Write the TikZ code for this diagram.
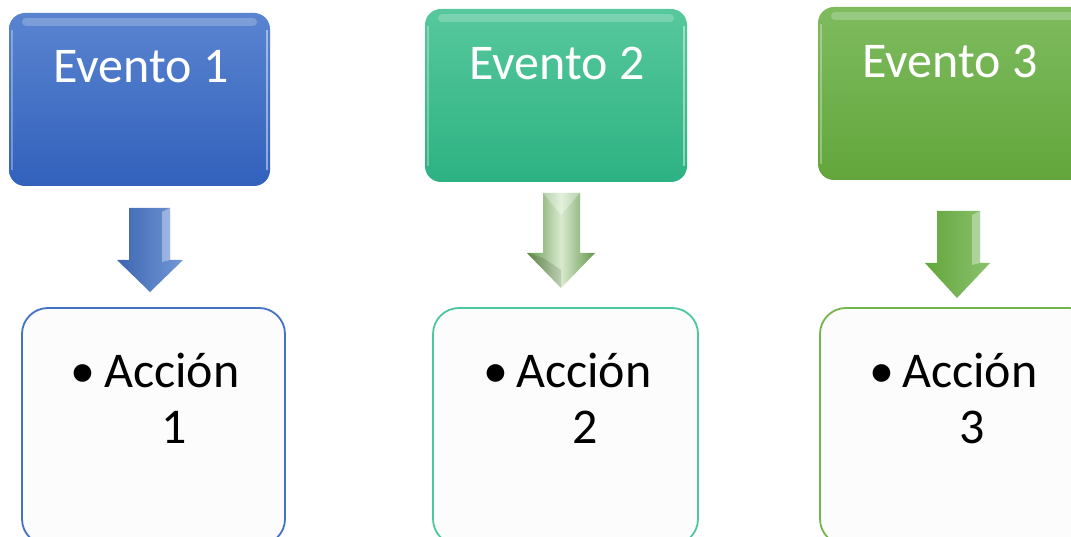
\documentclass[tikz,border=0pt]{standalone}
\usepackage{fontspec}
\setmainfont{Carlito}
\usetikzlibrary{calc}
\definecolor{bA}{HTML}{5A84D0}
\definecolor{bB}{HTML}{3261BC}
\definecolor{tA}{HTML}{56C89C}
\definecolor{tB}{HTML}{2DB283}
\definecolor{gA}{HTML}{7EBB5F}
\definecolor{gB}{HTML}{63A63B}
\definecolor{bLine}{HTML}{4472C4}
\definecolor{tLine}{HTML}{4CC79E}
\definecolor{gLine}{HTML}{74B44E}
\definecolor{paper}{HTML}{FCFCFC}
\tikzset{
  evbox/.style={rounded corners=16pt, draw=none},
  actbox/.style={rounded corners=26pt, fill=paper, line width=1.8pt},
  evtext/.style={text=white, font=\fontsize{50}{50}\selectfont, inner sep=0pt, anchor=base west},
  actext/.style={text=black, font=\fontsize{50}{50}\selectfont, inner sep=0pt, anchor=base west},
  gloss/.style={white, opacity=0.22, line width=8pt, line cap=round},
  bevel/.style={white, opacity=0.35}
}
\begin{document}
\begin{tikzpicture}[x=1pt,y=-1pt]
\useasboundingbox (0,0) rectangle (1071,537);
\fill[white] (0,0) rectangle (1071,537);

% ---------- top boxes ----------
\shade[evbox, top color=bA, bottom color=bB] (9,13) rectangle (270,186);
\draw[gloss] (26,22) -- (253,22);
\draw[white, opacity=0.45, line width=2.5pt] (267,30) -- (267,170);
\draw[white, opacity=0.3, line width=2.5pt] (12,30) -- (12,170);
\node[evtext] (e1) at (53,83) {Evento 1};

\shade[evbox, top color=tA, bottom color=tB] (425,9) rectangle (687,182);
\draw[gloss] (442,18) -- (670,18);
\draw[white, opacity=0.45, line width=2.5pt] (684,26) -- (684,166);
\draw[white, opacity=0.3, line width=2.5pt] (428,26) -- (428,166);
\node[evtext] (e2) at (469,80) {Evento 2};

\shade[evbox, top color=gA, bottom color=gB] (818,7) rectangle (1090,180);
\draw[gloss] (835,16) -- (1080,16);
\draw[white, opacity=0.3, line width=2.5pt] (821,24) -- (821,164);
\node[evtext] (e3) at (862,78) {Evento 3};

% ---------- arrows ----------
\shade[left color=bLine!90!black, right color=bA!85!white]
  (129,208) -- (170,208) -- (170,260) -- (183,260) -- (150,292) -- (117,260) -- (129,260) -- cycle;
\fill[bevel] (162,212) -- (170,208) -- (170,260) -- (162,262) -- cycle;
\coordinate (a1) at (150,292);

\shade[left color=gA!80!black, right color=gA!80!black, middle color=gA!30!white]
  (543,193) -- (580,193) -- (580,253) -- (595,253) -- (561,288) -- (527,253) -- (543,253) -- cycle;
\fill[white, opacity=0.3] (543,193) -- (580,193) -- (561,215) -- cycle;
\fill[black, opacity=0.12] (527,253) -- (561,288) -- (561,270) -- (543,258) -- cycle;
\coordinate (a2) at (561,288);

\shade[left color=gB, right color=gA!90!white]
  (937,211) -- (980,211) -- (980,263) -- (990,263) -- (957,298) -- (925,263) -- (937,263) -- cycle;
\fill[bevel] (972,215) -- (980,211) -- (980,263) -- (972,265) -- cycle;
\coordinate (a3) at (957,298);

% ---------- action boxes ----------
\draw[actbox, draw=bLine] (22,308) rectangle (285,545);
\node[actext] (b1) at (70,387) {•};
\node[actext] (c1) at (104,387) {Acción};
\node[actext] (n1) at (161,443) {1};

\draw[actbox, draw=tLine] (433,308) rectangle (698,545);
\node[actext] (b2) at (483,387) {•};
\node[actext] (c2) at (516,387) {Acción};
\node[actext] (n2) at (572,443) {2};

\draw[actbox, draw=gLine] (820,308) rectangle (1095,545);
\node[actext] (b3) at (869,387) {•};
\node[actext] (c3) at (902,387) {Acción};
\node[actext] (n3) at (959,443) {3};
\end{tikzpicture}
\end{document}
